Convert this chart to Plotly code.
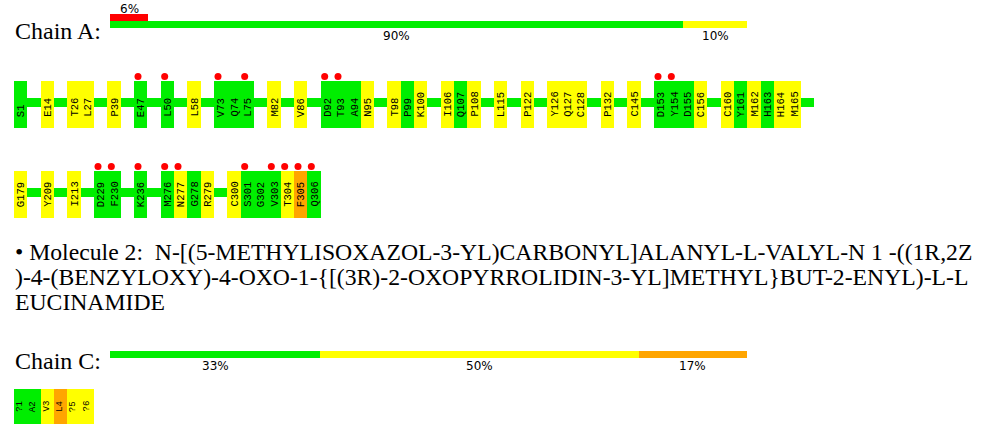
import re
import plotly.graph_objects as go

# ---------------- data ----------------
chain_a_residues = ["S1", "E14", "T26", "L27", "P39", "E47", "L50", "L58", "V73", "Q74", "L75",
                    "M82", "V86", "D92", "T93", "A94", "N95", "T98", "P99", "K100", "I106", "Q107",
                    "P108", "L115", "P122", "Y126", "Q127", "C128", "P132", "C145", "D153", "Y154",
                    "D155", "C156", "C160", "Y161", "M162", "H163", "H164", "M165", "G179", "Y209",
                    "I213", "D229", "F230", "K236", "M276", "N277", "G278", "R279", "C300", "S301",
                    "G302", "V303", "T304", "F305", "Q306"]
chain_a_quality = ["g", "y", "y", "y", "y", "g", "g", "y", "g", "g", "g",
                   "y", "y", "g", "g", "g", "y", "y", "g", "y", "y", "g",
                   "y", "y", "y", "y", "y", "y", "y", "y", "g", "g",
                   "g", "y", "y", "g", "y", "g", "y", "y", "y", "y",
                   "y", "g", "g", "g", "g", "y", "g", "y", "y", "g",
                   "g", "g", "y", "o", "g"]
chain_a_outliers = ["E47", "L50", "V73", "L75", "D92", "T93", "D153", "Y154", "D229", "F230",
                    "K236", "M276", "N277", "S301", "V303", "T304", "F305", "Q306"]

chain_c_residues = ["?1", "A2", "V3", "L4", "?5", "?6"]
chain_c_quality = ["g", "g", "y", "o", "y", "y"]

chain_a_summary_pct = [90, 10]
chain_a_summary_quality = ["g", "y"]
chain_a_outlier_pct = [6]
chain_c_summary_pct = [33, 50, 17]
chain_c_summary_quality = ["g", "y", "o"]

molecule_lines = [
    "\u2022 Molecule 2:  N-[(5-METHYLISOXAZOL-3-YL)CARBONYL]ALANYL-L-VALYL-N 1 -((1R,2Z",
    ")-4-(BENZYLOXY)-4-OXO-1-{[(3R)-2-OXOPYRROLIDIN-3-YL]METHYL}BUT-2-ENYL)-L-L",
    "EUCINAMIDE",
]

# ---------------- style ----------------
COLORS = {"g": "#00ee00", "y": "#ffff00", "o": "#ffa500", "r": "#ff0000"}
W, H = 991, 440
PER_ROW = 60
ROW_TOP0, ROW_STEP, BOX_H = 81, 90, 47
MONO = "Liberation Mono"
SERIF = "Liberation Serif"
SANS = "DejaVu Sans"


def resnum(name):
    return int(re.sub(r"\D", "", name))


def layout_slots(residues):
    slots, gaps, s, prev = [], [], 0, None
    for r in residues:
        n = resnum(r)
        if prev is not None and n != prev + 1:
            gaps.append(s)
            s += 1
        slots.append(s)
        s += 1
        prev = n
    return slots, gaps


fig = go.Figure()
annotations = []

# ---------- Chain A residue rows ----------
slots, gaps = layout_slots(chain_a_residues)
rows = {}
for s in slots + gaps:
    rows.setdefault(s // PER_ROW, []).append(s % PER_ROW)

bb_start, bb_len, bb_y = [], [], []
for row, cols in sorted(rows.items()):
    bb_start.append(min(cols))
    bb_len.append(max(cols) + 1 - min(cols))
    bb_y.append(ROW_TOP0 + row * ROW_STEP + 21)
fig.add_trace(go.Bar(orientation="h", x=bb_len, base=bb_start, y=bb_y, width=9,
                     marker=dict(color=COLORS["g"], line=dict(width=0)),
                     xaxis="x", yaxis="y", hoverinfo="skip"))

box_x, box_base, box_col = [], [], []
dot_x, dot_y = [], []
for name, s, q in zip(chain_a_residues, slots, chain_a_quality):
    row, col = divmod(s, PER_ROW)
    top = ROW_TOP0 + row * ROW_STEP
    box_x.append(col + 0.5)
    box_base.append(top)
    box_col.append(COLORS[q])
    annotations.append(dict(x=col + 0.5, y=top + 37, xref="x", yref="y", text=name,
                            textangle=-90, showarrow=False, xanchor="center",
                            yanchor="bottom", borderpad=0,
                            font=dict(family=MONO, size=10.5, color="black")))
    if name in chain_a_outliers:
        dot_x.append(col + 0.3)
        dot_y.append(top - 4.5)

fig.add_trace(go.Bar(x=box_x, y=[BOX_H] * len(box_x), base=box_base, width=1,
                     marker=dict(color=box_col, line=dict(width=0)),
                     xaxis="x", yaxis="y", hoverinfo="skip"))
fig.add_trace(go.Scatter(x=dot_x, y=dot_y, mode="markers",
                         marker=dict(color=COLORS["r"], size=7, line=dict(width=0)),
                         xaxis="x", yaxis="y", hoverinfo="skip"))

# ---------- Chain C residues ----------
C_TOP, C_H = 389, 35
cx = [i + 0.5 for i in range(len(chain_c_residues))]
fig.add_trace(go.Bar(x=cx, y=[C_H] * len(cx), base=[C_TOP] * len(cx), width=1,
                     marker=dict(color=[COLORS[q] for q in chain_c_quality], line=dict(width=0)),
                     xaxis="x", yaxis="y", hoverinfo="skip"))
for x, name in zip(cx, chain_c_residues):
    annotations.append(dict(x=x - 0.1, y=C_TOP + 24, xref="x", yref="y", text=name,
                            textangle=-90, showarrow=False, xanchor="center",
                            yanchor="bottom", borderpad=0,
                            font=dict(family=MONO, size=9, color="black")))


# ---------- summary bars ----------
def summary(pcts, quals, yc, label_y):
    base, acc = [], 0
    for p in pcts:
        base.append(acc)
        acc += p
    fig.add_trace(go.Bar(orientation="h", x=pcts, base=base, y=[yc] * len(pcts), width=7,
                         marker=dict(color=[COLORS[q] for q in quals], line=dict(width=0)),
                         xaxis="x2", yaxis="y", hoverinfo="skip"))
    for b, p in zip(base, pcts):
        annotations.append(dict(x=b + p / 2, y=label_y, xref="x2", yref="y", text=f"{p}%",
                                showarrow=False, xanchor="center", yanchor="middle",
                                font=dict(family=SANS, size=12, color="black")))


summary(chain_a_outlier_pct, ["r"], 17.5, 8.5)
summary(chain_a_summary_pct, chain_a_summary_quality, 24.8, 36)
summary(chain_c_summary_pct, chain_c_summary_quality, 354.5, 365.5)

# ---------- labels ----------
for txt, y in [("Chain A:", 31), ("Chain C:", 361)]:
    annotations.append(dict(x=13 / W, y=y, xref="paper", yref="y", text=txt, showarrow=False,
                            xanchor="left", yanchor="middle",
                            font=dict(family=SERIF, size=24, color="black")))
for i, line in enumerate(molecule_lines):
    annotations.append(dict(x=13 / W, y=252 + 25 * i, xref="paper", yref="y", text=line,
                            showarrow=False, xanchor="left", yanchor="middle",
                            font=dict(family=SERIF, size=23.7, color="black")))

fig.update_layout(
    width=W, height=H, margin=dict(l=0, r=0, t=0, b=0),
    paper_bgcolor="white", plot_bgcolor="rgba(0,0,0,0)", showlegend=False,
    barmode="overlay", bargap=0,
    xaxis=dict(domain=[14 / W, 814 / W], range=[0, PER_ROW], visible=False, fixedrange=True),
    xaxis2=dict(domain=[110 / W, 747 / W], range=[0, 100], visible=False, anchor="y",
                fixedrange=True),
    yaxis=dict(domain=[0, 1], range=[H, 0], visible=False, fixedrange=True),
    annotations=annotations,
)

fig.write_html("out.html", config={"displayModeBar": False},
               post_script="document.body.style.margin='0px';")
